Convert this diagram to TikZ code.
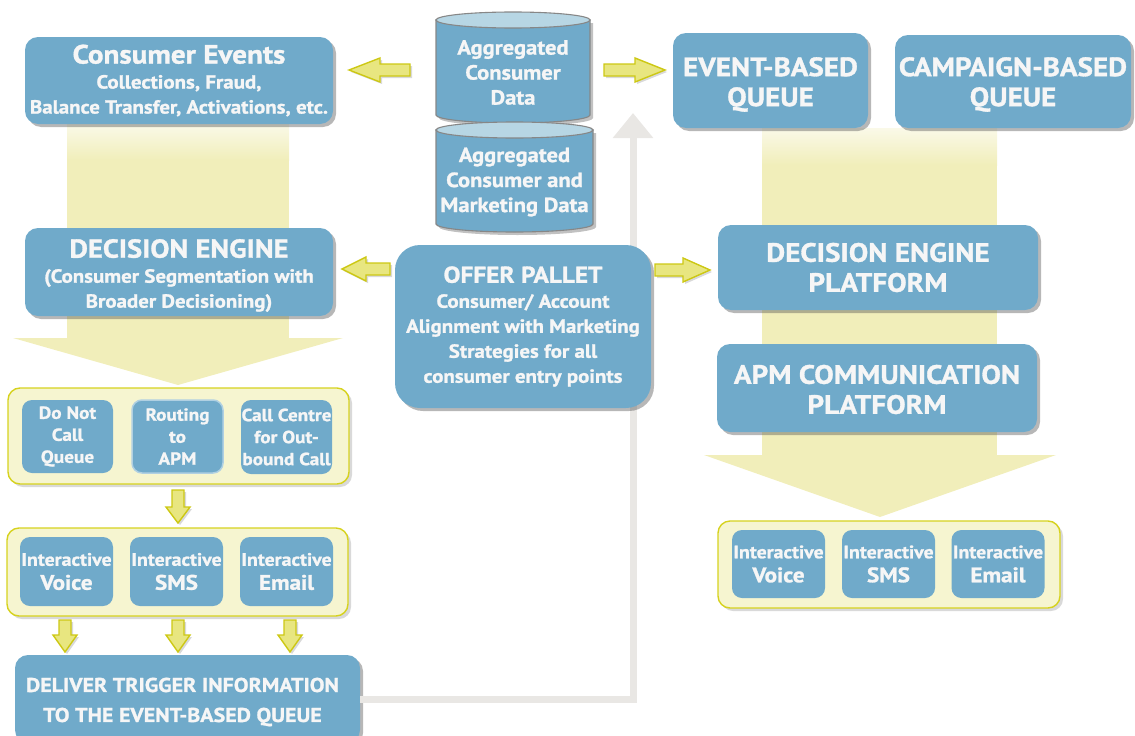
\documentclass[tikz,border=0pt]{standalone}
\usepackage{fontspec}
\setmainfont[FakeStretch=1.1, BoldFeatures={FakeBold=1.2}]{PT Sans}
\usetikzlibrary{shadows,arrows.meta}
\definecolor{boxblue}{RGB}{112,170,202}
\definecolor{txt}{RGB}{246,246,246}
\definecolor{band}{RGB}{241,238,186}
\definecolor{bandlight}{RGB}{250,249,232}
\definecolor{grpfill}{RGB}{246,245,208}
\definecolor{grpline}{RGB}{214,210,30}
\definecolor{yarfill}{RGB}{232,230,128}
\definecolor{yarline}{RGB}{205,200,20}
\definecolor{greyc}{RGB}{233,231,228}
\definecolor{cyltop}{RGB}{183,214,228}
\definecolor{cylline}{RGB}{135,135,135}
\tikzset{
  x=1pt, y=1pt,
  bbox/.style={fill=boxblue, rounded corners=13pt, text=txt, align=center, inner sep=0pt,
    drop shadow={shadow xshift=3pt, shadow yshift=-3pt, opacity=0.4, fill=black!70}},
  ibox/.style={fill=boxblue, rounded corners=10pt, text=txt, align=center, inner sep=0pt},
  grp/.style={fill=grpfill, draw=grpline, line width=1.4pt, rounded corners=12pt, inner sep=0pt,
    drop shadow={shadow xshift=3pt, shadow yshift=-3pt, opacity=0.25, fill=black!60}},
  yarrow/.style={fill=yarfill, draw=yarline, line width=1.4pt, line join=miter,
    drop shadow={shadow xshift=2pt, shadow yshift=-2pt, opacity=0.25, fill=black!60}},
  cylbody/.style={fill=boxblue, draw=cylline, line width=1.1pt,
    drop shadow={shadow xshift=3pt, shadow yshift=-3pt, opacity=0.35, fill=black!70}},
  cylend/.style={fill=cyltop, draw=cylline, line width=1.1pt},
  ttl/.style={font=\bfseries\fontsize{26.5}{30}\selectfont},
  lbl/.style={text=txt, align=center},
  pics/barrow/.style n args={4}{code={
    \draw[yarrow] (0,-#3) -- ({#1-#2},-#3) -- ({#1-#2},-#4) -- (#1,0) -- ({#1-#2},#4) -- ({#1-#2},#3) -- (0,#3) -- cycle;}}
}
\begin{document}
\begin{tikzpicture}
\useasboundingbox (0,0) rectangle (1135,-736);
% background bands
\fill[band] (67,-124) rectangle (289,-338);
\shade[top color=bandlight, bottom color=band] (67,-124) rectangle (289,-160);
\fill[band] (13,-338) -- (343,-338) -- (178,-385) -- cycle;
\fill[band] (762,-128) rectangle (997,-455);
\shade[top color=bandlight, bottom color=band] (762,-128) rectangle (997,-165);
\fill[band] (704,-455) -- (1056,-455) -- (880,-517) -- cycle;
% grey return connector
\coordinate (tipc) at (633,-113);
% nodes
\node[bbox, minimum width=345pt, minimum height=88pt,
  label={[lbl, xshift=-5pt, yshift=-3pt, font=\bfseries\fontsize{20}{30}\selectfont]center:DELIVER TRIGGER INFORMATION\\TO THE EVENT-BASED QUEUE}] (deliver) at (187.5,-699) {};
\draw[greyc, line width=7pt, -{Triangle[width=39pt,length=25pt]}] (deliver.east) -| (tipc);

\node[bbox, minimum width=308pt, minimum height=87pt, font=\bfseries\fontsize{19}{25}\selectfont] (ce) at (179,-80.5)
  {{\fontsize{26.5}{28}\selectfont Consumer Events}\\Collections, Fraud,\\Balance Transfer, Activations, etc.};
\node[bbox, minimum width=308pt, minimum height=88pt,
  label={[lbl, yshift=-3.5pt, font=\bfseries\fontsize{19}{25}\selectfont]center:{\fontsize{26}{28}\selectfont DECISION ENGINE}\\(Consumer Segmentation with\\Broader Decisioning)}] (del) at (179,-272) {};
\node[bbox, rounded corners=25pt, minimum width=256pt, minimum height=163pt, font=\bfseries\fontsize{19}{25}\selectfont] (offer) at (523,-326.5)
  {{\fontsize{23}{27}\selectfont OFFER PALLET}\\Consumer/ Account\\Alignment with Marketing\\Strategies for all\\consumer entry points};
\node[bbox, minimum width=195pt, minimum height=95pt,
  label={[lbl, ttl, yshift=-4pt]center:EVENT-BASED\\QUEUE}] (ebq) at (770.5,-80.5) {};
\node[bbox, minimum width=236pt, minimum height=93pt,
  label={[lbl, ttl, yshift=-3pt]center:CAMPAIGN-BASED\\QUEUE}] (cbq) at (1013,-81.5) {};
\node[bbox, minimum width=320pt, minimum height=85pt, ttl] (dep) at (878,-267.5) {DECISION ENGINE\\PLATFORM};
\node[bbox, minimum width=320pt, minimum height=88pt, ttl,
  label={[lbl, ttl, yshift=-1.5pt]center:APM COMMUNICATION\\PLATFORM}] (apm) at (877,-388) {};

% cylinders
\filldraw[cylbody] (436,-20) -- (436,-115) arc[start angle=180, end angle=360, x radius=77pt, y radius=8pt] -- (590,-20) -- cycle;
\filldraw[cylend] (513,-20) ellipse[x radius=77pt, y radius=8pt];
\filldraw[cylbody] (436,-130) -- (436,-224) arc[start angle=180, end angle=360, x radius=78.5pt, y radius=8pt] -- (593,-130) -- cycle;
\filldraw[cylend] (514.5,-130) ellipse[x radius=78.5pt, y radius=8pt];
\node[lbl, font=\bfseries\fontsize{20.5}{25}\selectfont] (cyl1) at (513,-72.5) {Aggregated\\Consumer\\Data};
\node[lbl, font=\bfseries\fontsize{20.5}{25}\selectfont] (cyl2) at (514.5,-182) {Aggregated\\Consumer and\\Marketing Data};

% groups left
\node[grp, minimum width=341pt, minimum height=96pt] (g1) at (178.5,-436) {};
\node[ibox, minimum width=91pt, minimum height=73pt, font=\bfseries\fontsize{17.5}{22}\selectfont] (dnc) at (67.5,-436.5) {Do Not\\Call\\Queue};
\node[ibox, draw=boxblue!55!white, line width=1.5pt, minimum width=91pt, minimum height=73pt, font=\bfseries\fontsize{17.5}{22}\selectfont] (rta) at (177.5,-436.5) {Routing\\to\\APM};
\node[ibox, minimum width=91pt, minimum height=74pt, font=\bfseries\fontsize{17.5}{22}\selectfont] (ccc) at (286.5,-437) {Call Centre\\for Out-\\bound Call};

\node[grp, minimum width=341pt, minimum height=88pt] (g2) at (177.5,-572) {};
\node[ibox, minimum width=93pt, minimum height=69pt, font=\bfseries\fontsize{18}{24}\selectfont] (iv1) at (66.5,-571.5) {Interactive\\{\fontsize{21}{24}\selectfont Voice}};
\node[ibox, minimum width=93pt, minimum height=69pt, font=\bfseries\fontsize{18}{24}\selectfont] (is1) at (176.5,-571.5) {Interactive\\{\fontsize{21}{24}\selectfont SMS}};
\node[ibox, minimum width=93pt, minimum height=69pt, font=\bfseries\fontsize{18}{24}\selectfont] (ie1) at (286.5,-571.5) {Interactive\\{\fontsize{21}{24}\selectfont Email}};

% group right
\node[grp, minimum width=342pt, minimum height=87pt] (g3) at (889,-564.5) {};
\node[ibox, minimum width=93pt, minimum height=68pt, font=\bfseries\fontsize{18}{24}\selectfont] (iv2) at (778.5,-564) {Interactive\\{\fontsize{21}{24}\selectfont Voice}};
\node[ibox, minimum width=93pt, minimum height=68pt, font=\bfseries\fontsize{18}{24}\selectfont] (is2) at (888.5,-564) {Interactive\\{\fontsize{21}{24}\selectfont SMS}};
\node[ibox, minimum width=93pt, minimum height=68pt, font=\bfseries\fontsize{18}{24}\selectfont] (ie2) at (998,-564) {Interactive\\{\fontsize{21}{24}\selectfont Email}};

% yellow block arrows
\pic[rotate=180] at (410,-70) {barrow={61}{31}{6}{12}};
\pic at (604,-70) {barrow={61}{30}{6}{12}};
\pic[rotate=180] at (390,-269) {barrow={48}{24}{6}{12}};
\pic at (655,-270) {barrow={55}{27}{6}{12}};
\pic[rotate=-90] at (178,-490) {barrow={33}{16}{6}{12}};
\pic[rotate=-90] at (65,-620) {barrow={32}{17}{6}{12}};
\pic[rotate=-90] at (178,-620) {barrow={32}{17}{6}{12}};
\pic[rotate=-90] at (290,-620) {barrow={32}{17}{6}{12}};
\end{tikzpicture}
\end{document}
